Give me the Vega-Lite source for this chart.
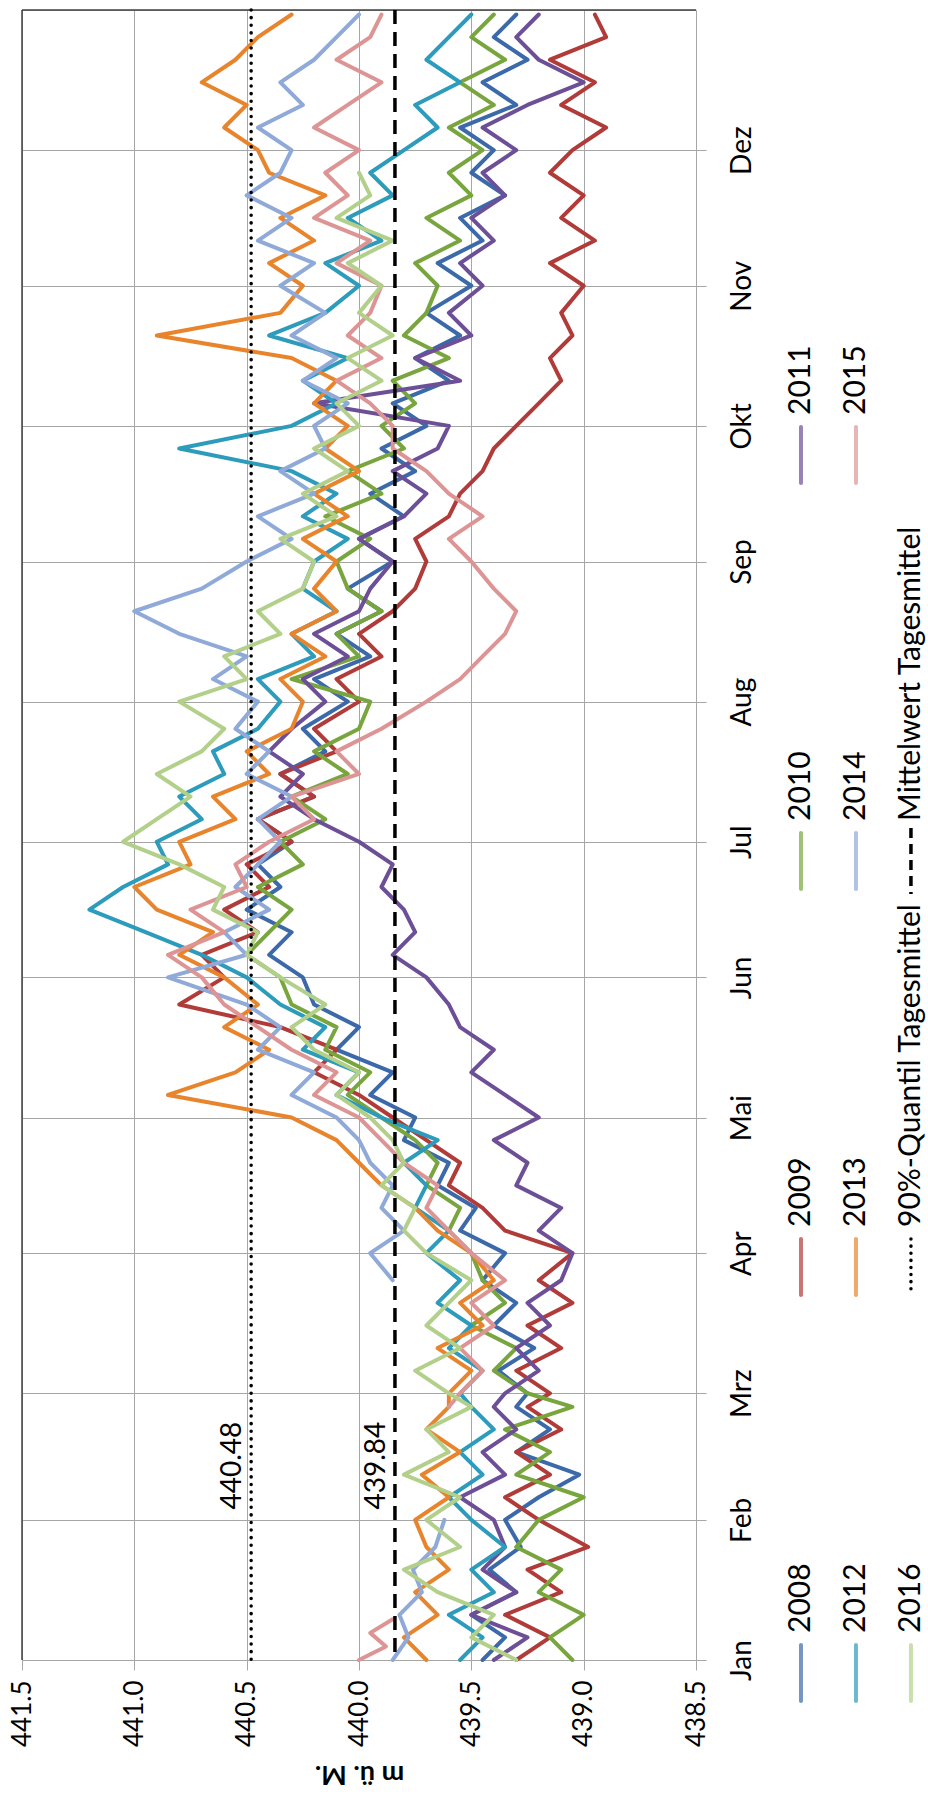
{
"$schema":"https://vega.github.io/schema/vega-lite/v6.json",
"background":"white",
"padding":{"left":8,"top":7,"right":0,"bottom":0},
"bounds":"flush",
"spacing":50,
"hconcat":[
{
"width":674,"height":1650,
"view":{"stroke":"#a6a6a6"},
"layer":[
{
"data":{"values":[
{"s":"2008","d":0,"v":439.45},{"s":"2008","d":5,"v":439.35},{"s":"2008","d":10,"v":439.5},{"s":"2008","d":15,"v":439.3},{"s":"2008","d":20,"v":439.42},{"s":"2008","d":25,"v":439.28},
{"s":"2008","d":31,"v":439.35},{"s":"2008","d":36,"v":439.2},{"s":"2008","d":41,"v":439.02},{"s":"2008","d":46,"v":439.3},{"s":"2008","d":51,"v":439.15},{"s":"2008","d":56,"v":439.3},
{"s":"2008","d":59,"v":439.25},{"s":"2008","d":64,"v":439.38},{"s":"2008","d":69,"v":439.22},{"s":"2008","d":74,"v":439.4},{"s":"2008","d":79,"v":439.3},{"s":"2008","d":84,"v":439.45},
{"s":"2008","d":90,"v":439.35},{"s":"2008","d":95,"v":439.55},{"s":"2008","d":100,"v":439.48},{"s":"2008","d":105,"v":439.65},{"s":"2008","d":110,"v":439.6},{"s":"2008","d":115,"v":439.8},
{"s":"2008","d":120,"v":439.75},{"s":"2008","d":125,"v":439.95},{"s":"2008","d":130,"v":439.85},{"s":"2008","d":135,"v":440.1},{"s":"2008","d":140,"v":440.0},{"s":"2008","d":145,"v":440.2},
{"s":"2008","d":151,"v":440.25},{"s":"2008","d":156,"v":440.4},{"s":"2008","d":161,"v":440.3},{"s":"2008","d":166,"v":440.5},{"s":"2008","d":171,"v":440.35},{"s":"2008","d":176,"v":440.45},
{"s":"2008","d":181,"v":440.3},{"s":"2008","d":186,"v":440.45},{"s":"2008","d":191,"v":440.2},{"s":"2008","d":196,"v":440.35},{"s":"2008","d":201,"v":440.15},{"s":"2008","d":206,"v":440.25},
{"s":"2008","d":212,"v":440.05},{"s":"2008","d":217,"v":440.2},{"s":"2008","d":222,"v":439.95},{"s":"2008","d":227,"v":440.1},{"s":"2008","d":232,"v":439.9},{"s":"2008","d":237,"v":440.05},
{"s":"2008","d":243,"v":439.85},{"s":"2008","d":248,"v":440.0},{"s":"2008","d":253,"v":439.8},{"s":"2008","d":258,"v":439.95},{"s":"2008","d":263,"v":439.75},{"s":"2008","d":268,"v":439.9},
{"s":"2008","d":273,"v":439.7},{"s":"2008","d":278,"v":439.85},{"s":"2008","d":283,"v":439.6},{"s":"2008","d":288,"v":439.75},{"s":"2008","d":293,"v":439.55},{"s":"2008","d":298,"v":439.7},
{"s":"2008","d":304,"v":439.5},{"s":"2008","d":309,"v":439.65},{"s":"2008","d":314,"v":439.45},{"s":"2008","d":319,"v":439.55},{"s":"2008","d":324,"v":439.35},{"s":"2008","d":329,"v":439.5},
{"s":"2008","d":334,"v":439.4},{"s":"2008","d":339,"v":439.55},{"s":"2008","d":344,"v":439.3},{"s":"2008","d":349,"v":439.45},{"s":"2008","d":354,"v":439.25},{"s":"2008","d":359,"v":439.4},{"s":"2008","d":364,"v":439.3},
{"s":"2009","d":0,"v":439.3},{"s":"2009","d":5,"v":439.15},{"s":"2009","d":10,"v":439.35},{"s":"2009","d":15,"v":439.1},{"s":"2009","d":20,"v":439.25},{"s":"2009","d":25,"v":438.98},
{"s":"2009","d":31,"v":439.2},{"s":"2009","d":36,"v":439.35},{"s":"2009","d":41,"v":439.15},{"s":"2009","d":46,"v":439.3},{"s":"2009","d":51,"v":439.1},{"s":"2009","d":56,"v":439.25},
{"s":"2009","d":59,"v":439.15},{"s":"2009","d":64,"v":439.3},{"s":"2009","d":69,"v":439.1},{"s":"2009","d":74,"v":439.25},{"s":"2009","d":79,"v":439.05},{"s":"2009","d":84,"v":439.2},
{"s":"2009","d":90,"v":439.05},{"s":"2009","d":95,"v":439.35},{"s":"2009","d":100,"v":439.45},{"s":"2009","d":105,"v":439.6},{"s":"2009","d":110,"v":439.55},{"s":"2009","d":115,"v":439.7},
{"s":"2009","d":120,"v":439.85},{"s":"2009","d":125,"v":440.0},{"s":"2009","d":130,"v":440.2},{"s":"2009","d":135,"v":440.1},{"s":"2009","d":140,"v":440.35},{"s":"2009","d":145,"v":440.8},
{"s":"2009","d":151,"v":440.6},{"s":"2009","d":156,"v":440.7},{"s":"2009","d":161,"v":440.45},{"s":"2009","d":166,"v":440.6},{"s":"2009","d":171,"v":440.4},{"s":"2009","d":176,"v":440.5},
{"s":"2009","d":181,"v":440.3},{"s":"2009","d":186,"v":440.45},{"s":"2009","d":191,"v":440.2},{"s":"2009","d":196,"v":440.35},{"s":"2009","d":201,"v":440.1},{"s":"2009","d":206,"v":440.2},
{"s":"2009","d":212,"v":440.0},{"s":"2009","d":217,"v":440.1},{"s":"2009","d":222,"v":439.9},{"s":"2009","d":227,"v":440.0},{"s":"2009","d":232,"v":439.85},{"s":"2009","d":237,"v":439.75},
{"s":"2009","d":243,"v":439.7},{"s":"2009","d":248,"v":439.75},{"s":"2009","d":253,"v":439.6},{"s":"2009","d":258,"v":439.55},{"s":"2009","d":263,"v":439.45},{"s":"2009","d":268,"v":439.4},
{"s":"2009","d":273,"v":439.3},{"s":"2009","d":278,"v":439.2},{"s":"2009","d":283,"v":439.1},{"s":"2009","d":288,"v":439.15},{"s":"2009","d":293,"v":439.05},{"s":"2009","d":298,"v":439.1},
{"s":"2009","d":304,"v":439.0},{"s":"2009","d":309,"v":439.15},{"s":"2009","d":314,"v":438.95},{"s":"2009","d":319,"v":439.1},{"s":"2009","d":324,"v":439.0},{"s":"2009","d":329,"v":439.15},
{"s":"2009","d":334,"v":439.05},{"s":"2009","d":339,"v":438.9},{"s":"2009","d":344,"v":439.1},{"s":"2009","d":349,"v":438.95},{"s":"2009","d":354,"v":439.15},{"s":"2009","d":359,"v":438.9},{"s":"2009","d":364,"v":438.95},
{"s":"2010","d":0,"v":439.05},{"s":"2010","d":5,"v":439.15},{"s":"2010","d":10,"v":439.0},{"s":"2010","d":15,"v":439.2},{"s":"2010","d":20,"v":439.1},{"s":"2010","d":25,"v":439.3},
{"s":"2010","d":31,"v":439.2},{"s":"2010","d":36,"v":439.0},{"s":"2010","d":41,"v":439.3},{"s":"2010","d":46,"v":439.15},{"s":"2010","d":51,"v":439.35},{"s":"2010","d":56,"v":439.05},
{"s":"2010","d":59,"v":439.25},{"s":"2010","d":64,"v":439.4},{"s":"2010","d":69,"v":439.3},{"s":"2010","d":74,"v":439.5},{"s":"2010","d":79,"v":439.35},{"s":"2010","d":84,"v":439.45},
{"s":"2010","d":90,"v":439.5},{"s":"2010","d":95,"v":439.6},{"s":"2010","d":100,"v":439.55},{"s":"2010","d":105,"v":439.7},{"s":"2010","d":110,"v":439.65},{"s":"2010","d":115,"v":439.75},
{"s":"2010","d":120,"v":439.9},{"s":"2010","d":125,"v":440.05},{"s":"2010","d":130,"v":439.95},{"s":"2010","d":135,"v":440.15},{"s":"2010","d":140,"v":440.1},{"s":"2010","d":145,"v":440.3},
{"s":"2010","d":151,"v":440.35},{"s":"2010","d":156,"v":440.5},{"s":"2010","d":161,"v":440.4},{"s":"2010","d":166,"v":440.3},{"s":"2010","d":171,"v":440.45},{"s":"2010","d":176,"v":440.25},
{"s":"2010","d":181,"v":440.35},{"s":"2010","d":186,"v":440.15},{"s":"2010","d":191,"v":440.3},{"s":"2010","d":196,"v":440.05},{"s":"2010","d":201,"v":440.2},{"s":"2010","d":206,"v":440.0},
{"s":"2010","d":212,"v":439.95},{"s":"2010","d":217,"v":440.3},{"s":"2010","d":222,"v":440.0},{"s":"2010","d":227,"v":440.1},{"s":"2010","d":232,"v":439.9},{"s":"2010","d":237,"v":440.05},
{"s":"2010","d":243,"v":440.1},{"s":"2010","d":248,"v":439.95},{"s":"2010","d":253,"v":440.15},{"s":"2010","d":258,"v":439.9},{"s":"2010","d":263,"v":440.05},{"s":"2010","d":268,"v":439.8},
{"s":"2010","d":273,"v":439.9},{"s":"2010","d":278,"v":439.75},{"s":"2010","d":283,"v":439.85},{"s":"2010","d":288,"v":439.6},{"s":"2010","d":293,"v":439.8},{"s":"2010","d":298,"v":439.7},
{"s":"2010","d":304,"v":439.65},{"s":"2010","d":309,"v":439.75},{"s":"2010","d":314,"v":439.55},{"s":"2010","d":319,"v":439.7},{"s":"2010","d":324,"v":439.5},{"s":"2010","d":329,"v":439.6},
{"s":"2010","d":334,"v":439.45},{"s":"2010","d":339,"v":439.6},{"s":"2010","d":344,"v":439.4},{"s":"2010","d":349,"v":439.55},{"s":"2010","d":354,"v":439.35},{"s":"2010","d":359,"v":439.5},{"s":"2010","d":364,"v":439.4},
{"s":"2011","d":0,"v":439.4},{"s":"2011","d":5,"v":439.25},{"s":"2011","d":10,"v":439.5},{"s":"2011","d":15,"v":439.3},{"s":"2011","d":20,"v":439.45},{"s":"2011","d":25,"v":439.35},
{"s":"2011","d":31,"v":439.4},{"s":"2011","d":36,"v":439.55},{"s":"2011","d":41,"v":439.35},{"s":"2011","d":46,"v":439.45},{"s":"2011","d":51,"v":439.3},{"s":"2011","d":56,"v":439.4},
{"s":"2011","d":59,"v":439.35},{"s":"2011","d":64,"v":439.2},{"s":"2011","d":69,"v":439.3},{"s":"2011","d":74,"v":439.15},{"s":"2011","d":79,"v":439.25},{"s":"2011","d":84,"v":439.1},
{"s":"2011","d":90,"v":439.05},{"s":"2011","d":95,"v":439.2},{"s":"2011","d":100,"v":439.1},{"s":"2011","d":105,"v":439.3},{"s":"2011","d":110,"v":439.25},{"s":"2011","d":115,"v":439.4},
{"s":"2011","d":120,"v":439.2},{"s":"2011","d":125,"v":439.35},{"s":"2011","d":130,"v":439.5},{"s":"2011","d":135,"v":439.4},{"s":"2011","d":140,"v":439.55},{"s":"2011","d":145,"v":439.6},
{"s":"2011","d":151,"v":439.7},{"s":"2011","d":156,"v":439.85},{"s":"2011","d":161,"v":439.75},{"s":"2011","d":166,"v":439.8},{"s":"2011","d":171,"v":439.9},{"s":"2011","d":176,"v":439.85},
{"s":"2011","d":181,"v":440.0},{"s":"2011","d":186,"v":440.2},{"s":"2011","d":191,"v":440.35},{"s":"2011","d":196,"v":440.25},{"s":"2011","d":201,"v":440.4},{"s":"2011","d":206,"v":440.3},
{"s":"2011","d":212,"v":440.15},{"s":"2011","d":217,"v":440.25},{"s":"2011","d":222,"v":440.05},{"s":"2011","d":227,"v":440.2},{"s":"2011","d":232,"v":440.0},{"s":"2011","d":237,"v":439.95},
{"s":"2011","d":243,"v":439.85},{"s":"2011","d":248,"v":440.0},{"s":"2011","d":253,"v":439.8},{"s":"2011","d":258,"v":439.7},{"s":"2011","d":263,"v":439.85},{"s":"2011","d":268,"v":439.65},
{"s":"2011","d":273,"v":439.6},{"s":"2011","d":278,"v":440.2},{"s":"2011","d":283,"v":439.55},{"s":"2011","d":288,"v":439.75},{"s":"2011","d":293,"v":439.5},{"s":"2011","d":298,"v":439.6},
{"s":"2011","d":304,"v":439.45},{"s":"2011","d":309,"v":439.55},{"s":"2011","d":314,"v":439.4},{"s":"2011","d":319,"v":439.5},{"s":"2011","d":324,"v":439.35},{"s":"2011","d":329,"v":439.45},
{"s":"2011","d":334,"v":439.3},{"s":"2011","d":339,"v":439.45},{"s":"2011","d":344,"v":439.25},{"s":"2011","d":349,"v":439.0},{"s":"2011","d":354,"v":439.2},{"s":"2011","d":359,"v":439.3},{"s":"2011","d":364,"v":439.2},
{"s":"2012","d":0,"v":439.55},{"s":"2012","d":5,"v":439.45},{"s":"2012","d":10,"v":439.6},{"s":"2012","d":15,"v":439.4},{"s":"2012","d":20,"v":439.5},{"s":"2012","d":25,"v":439.35},
{"s":"2012","d":31,"v":439.5},{"s":"2012","d":36,"v":439.6},{"s":"2012","d":41,"v":439.45},{"s":"2012","d":46,"v":439.55},{"s":"2012","d":51,"v":439.4},{"s":"2012","d":56,"v":439.5},
{"s":"2012","d":59,"v":439.55},{"s":"2012","d":64,"v":439.45},{"s":"2012","d":69,"v":439.6},{"s":"2012","d":74,"v":439.5},{"s":"2012","d":79,"v":439.65},{"s":"2012","d":84,"v":439.55},
{"s":"2012","d":90,"v":439.7},{"s":"2012","d":95,"v":439.6},{"s":"2012","d":100,"v":439.75},{"s":"2012","d":105,"v":439.7},{"s":"2012","d":110,"v":439.8},{"s":"2012","d":115,"v":439.65},
{"s":"2012","d":120,"v":439.9},{"s":"2012","d":125,"v":440.1},{"s":"2012","d":130,"v":440.0},{"s":"2012","d":135,"v":440.25},{"s":"2012","d":140,"v":440.15},{"s":"2012","d":145,"v":440.35},
{"s":"2012","d":151,"v":440.5},{"s":"2012","d":156,"v":440.7},{"s":"2012","d":161,"v":440.95},{"s":"2012","d":166,"v":441.2},{"s":"2012","d":171,"v":441.05},{"s":"2012","d":176,"v":440.85},
{"s":"2012","d":181,"v":440.9},{"s":"2012","d":186,"v":440.7},{"s":"2012","d":191,"v":440.8},{"s":"2012","d":196,"v":440.6},{"s":"2012","d":201,"v":440.65},{"s":"2012","d":206,"v":440.45},
{"s":"2012","d":212,"v":440.35},{"s":"2012","d":217,"v":440.45},{"s":"2012","d":222,"v":440.2},{"s":"2012","d":227,"v":440.3},{"s":"2012","d":232,"v":440.1},{"s":"2012","d":237,"v":440.25},
{"s":"2012","d":243,"v":440.2},{"s":"2012","d":248,"v":440.05},{"s":"2012","d":253,"v":440.25},{"s":"2012","d":258,"v":440.1},{"s":"2012","d":263,"v":440.3},{"s":"2012","d":268,"v":440.8},
{"s":"2012","d":273,"v":440.3},{"s":"2012","d":278,"v":440.1},{"s":"2012","d":283,"v":440.25},{"s":"2012","d":288,"v":440.05},{"s":"2012","d":293,"v":440.4},{"s":"2012","d":298,"v":440.15},
{"s":"2012","d":304,"v":440.0},{"s":"2012","d":309,"v":440.15},{"s":"2012","d":314,"v":439.9},{"s":"2012","d":319,"v":440.05},{"s":"2012","d":324,"v":439.85},{"s":"2012","d":329,"v":439.95},
{"s":"2012","d":334,"v":439.8},{"s":"2012","d":339,"v":439.65},{"s":"2012","d":344,"v":439.75},{"s":"2012","d":349,"v":439.55},{"s":"2012","d":354,"v":439.7},{"s":"2012","d":359,"v":439.6},{"s":"2012","d":364,"v":439.5},
{"s":"2013","d":0,"v":439.7},{"s":"2013","d":5,"v":439.8},{"s":"2013","d":10,"v":439.65},{"s":"2013","d":15,"v":439.75},{"s":"2013","d":20,"v":439.6},{"s":"2013","d":25,"v":439.7},
{"s":"2013","d":31,"v":439.75},{"s":"2013","d":36,"v":439.6},{"s":"2013","d":41,"v":439.72},{"s":"2013","d":46,"v":439.55},{"s":"2013","d":51,"v":439.7},{"s":"2013","d":56,"v":439.6},
{"s":"2013","d":59,"v":439.6},{"s":"2013","d":64,"v":439.5},{"s":"2013","d":69,"v":439.65},{"s":"2013","d":74,"v":439.45},{"s":"2013","d":79,"v":439.55},{"s":"2013","d":84,"v":439.4},
{"s":"2013","d":90,"v":439.5},{"s":"2013","d":95,"v":439.65},{"s":"2013","d":100,"v":439.75},{"s":"2013","d":105,"v":439.9},{"s":"2013","d":110,"v":440.0},{"s":"2013","d":115,"v":440.1},
{"s":"2013","d":120,"v":440.3},{"s":"2013","d":125,"v":440.85},{"s":"2013","d":130,"v":440.55},{"s":"2013","d":135,"v":440.4},{"s":"2013","d":140,"v":440.6},{"s":"2013","d":145,"v":440.45},
{"s":"2013","d":151,"v":440.6},{"s":"2013","d":156,"v":440.8},{"s":"2013","d":161,"v":440.65},{"s":"2013","d":166,"v":440.9},{"s":"2013","d":171,"v":441.0},{"s":"2013","d":176,"v":440.75},
{"s":"2013","d":181,"v":440.8},{"s":"2013","d":186,"v":440.55},{"s":"2013","d":191,"v":440.65},{"s":"2013","d":196,"v":440.4},{"s":"2013","d":201,"v":440.5},{"s":"2013","d":206,"v":440.3},
{"s":"2013","d":212,"v":440.25},{"s":"2013","d":217,"v":440.35},{"s":"2013","d":222,"v":440.15},{"s":"2013","d":227,"v":440.3},{"s":"2013","d":232,"v":440.1},{"s":"2013","d":237,"v":440.2},
{"s":"2013","d":243,"v":440.1},{"s":"2013","d":248,"v":440.25},{"s":"2013","d":253,"v":440.05},{"s":"2013","d":258,"v":440.2},{"s":"2013","d":263,"v":440.0},{"s":"2013","d":268,"v":440.15},
{"s":"2013","d":273,"v":440.05},{"s":"2013","d":278,"v":440.2},{"s":"2013","d":283,"v":440.1},{"s":"2013","d":288,"v":440.3},{"s":"2013","d":293,"v":440.9},{"s":"2013","d":298,"v":440.35},
{"s":"2013","d":304,"v":440.25},{"s":"2013","d":309,"v":440.4},{"s":"2013","d":314,"v":440.2},{"s":"2013","d":319,"v":440.35},{"s":"2013","d":324,"v":440.15},{"s":"2013","d":329,"v":440.4},
{"s":"2013","d":334,"v":440.45},{"s":"2013","d":339,"v":440.6},{"s":"2013","d":344,"v":440.5},{"s":"2013","d":349,"v":440.7},{"s":"2013","d":354,"v":440.55},{"s":"2013","d":359,"v":440.45},{"s":"2013","d":364,"v":440.3},
{"s":"2014","d":0,"v":439.85},{"s":"2014","d":5,"v":439.78},{"s":"2014","d":10,"v":439.82},{"s":"2014","d":15,"v":439.72},{"s":"2014","d":20,"v":439.76},{"s":"2014","d":25,"v":439.66},{"s":"2014","d":31,"v":439.62},
{"s":"2014","p":2,"d":84,"v":439.85},{"s":"2014","p":2,"d":90,"v":439.95},{"s":"2014","p":2,"d":95,"v":439.8},{"s":"2014","p":2,"d":100,"v":439.9},{"s":"2014","p":2,"d":105,"v":439.85},{"s":"2014","p":2,"d":110,"v":439.95},{"s":"2014","p":2,"d":115,"v":440.0},
{"s":"2014","p":2,"d":120,"v":440.1},{"s":"2014","p":2,"d":125,"v":440.3},{"s":"2014","p":2,"d":130,"v":440.2},{"s":"2014","p":2,"d":135,"v":440.45},{"s":"2014","p":2,"d":140,"v":440.35},{"s":"2014","p":2,"d":145,"v":440.5},
{"s":"2014","p":2,"d":151,"v":440.85},{"s":"2014","p":2,"d":156,"v":440.5},{"s":"2014","p":2,"d":161,"v":440.6},{"s":"2014","p":2,"d":166,"v":440.4},{"s":"2014","p":2,"d":171,"v":440.55},{"s":"2014","p":2,"d":176,"v":440.45},
{"s":"2014","p":2,"d":181,"v":440.35},{"s":"2014","p":2,"d":186,"v":440.45},{"s":"2014","p":2,"d":191,"v":440.3},{"s":"2014","p":2,"d":196,"v":440.5},{"s":"2014","p":2,"d":201,"v":440.4},{"s":"2014","p":2,"d":206,"v":440.55},
{"s":"2014","p":2,"d":212,"v":440.45},{"s":"2014","p":2,"d":217,"v":440.65},{"s":"2014","p":2,"d":222,"v":440.5},{"s":"2014","p":2,"d":227,"v":440.8},{"s":"2014","p":2,"d":232,"v":441.0},{"s":"2014","p":2,"d":237,"v":440.7},
{"s":"2014","p":2,"d":243,"v":440.5},{"s":"2014","p":2,"d":248,"v":440.3},{"s":"2014","p":2,"d":253,"v":440.45},{"s":"2014","p":2,"d":258,"v":440.2},{"s":"2014","p":2,"d":263,"v":440.35},{"s":"2014","p":2,"d":268,"v":440.15},
{"s":"2014","p":2,"d":273,"v":440.2},{"s":"2014","p":2,"d":278,"v":440.05},{"s":"2014","p":2,"d":283,"v":440.25},{"s":"2014","p":2,"d":288,"v":440.1},{"s":"2014","p":2,"d":293,"v":440.3},{"s":"2014","p":2,"d":298,"v":440.15},
{"s":"2014","p":2,"d":304,"v":440.35},{"s":"2014","p":2,"d":309,"v":440.2},{"s":"2014","p":2,"d":314,"v":440.45},{"s":"2014","p":2,"d":319,"v":440.3},{"s":"2014","p":2,"d":324,"v":440.5},{"s":"2014","p":2,"d":329,"v":440.35},
{"s":"2014","p":2,"d":334,"v":440.3},{"s":"2014","p":2,"d":339,"v":440.45},{"s":"2014","p":2,"d":344,"v":440.25},{"s":"2014","p":2,"d":349,"v":440.35},{"s":"2014","p":2,"d":354,"v":440.2},{"s":"2014","p":2,"d":359,"v":440.1},{"s":"2014","p":2,"d":364,"v":440.0},
{"s":"2015","d":0,"v":440.0},{"s":"2015","d":3,"v":439.88},{"s":"2015","d":6,"v":439.95},{"s":"2015","d":9,"v":439.85},
{"s":"2015","p":2,"d":56,"v":439.6},{"s":"2015","p":2,"d":59,"v":439.55},{"s":"2015","p":2,"d":64,"v":439.45},{"s":"2015","p":2,"d":69,"v":439.55},{"s":"2015","p":2,"d":74,"v":439.4},{"s":"2015","p":2,"d":79,"v":439.5},{"s":"2015","p":2,"d":84,"v":439.35},
{"s":"2015","p":2,"d":90,"v":439.5},{"s":"2015","p":2,"d":95,"v":439.6},{"s":"2015","p":2,"d":100,"v":439.7},{"s":"2015","p":2,"d":105,"v":439.65},{"s":"2015","p":2,"d":110,"v":439.8},{"s":"2015","p":2,"d":115,"v":439.9},
{"s":"2015","p":2,"d":120,"v":440.0},{"s":"2015","p":2,"d":125,"v":440.2},{"s":"2015","p":2,"d":130,"v":440.1},{"s":"2015","p":2,"d":135,"v":440.3},{"s":"2015","p":2,"d":140,"v":440.45},{"s":"2015","p":2,"d":145,"v":440.6},
{"s":"2015","p":2,"d":151,"v":440.7},{"s":"2015","p":2,"d":156,"v":440.85},{"s":"2015","p":2,"d":161,"v":440.6},{"s":"2015","p":2,"d":166,"v":440.75},{"s":"2015","p":2,"d":171,"v":440.5},{"s":"2015","p":2,"d":176,"v":440.55},
{"s":"2015","p":2,"d":181,"v":440.4},{"s":"2015","p":2,"d":186,"v":440.2},{"s":"2015","p":2,"d":191,"v":440.3},{"s":"2015","p":2,"d":196,"v":440.0},{"s":"2015","p":2,"d":201,"v":440.1},{"s":"2015","p":2,"d":206,"v":439.9},
{"s":"2015","p":2,"d":212,"v":439.7},{"s":"2015","p":2,"d":217,"v":439.55},{"s":"2015","p":2,"d":222,"v":439.45},{"s":"2015","p":2,"d":227,"v":439.35},{"s":"2015","p":2,"d":232,"v":439.3},{"s":"2015","p":2,"d":237,"v":439.4},
{"s":"2015","p":2,"d":243,"v":439.5},{"s":"2015","p":2,"d":248,"v":439.6},{"s":"2015","p":2,"d":253,"v":439.45},{"s":"2015","p":2,"d":258,"v":439.6},{"s":"2015","p":2,"d":263,"v":439.7},{"s":"2015","p":2,"d":268,"v":439.85},
{"s":"2015","p":2,"d":273,"v":439.85},{"s":"2015","p":2,"d":278,"v":439.95},{"s":"2015","p":2,"d":283,"v":440.1},{"s":"2015","p":2,"d":288,"v":439.9},{"s":"2015","p":2,"d":293,"v":440.05},{"s":"2015","p":2,"d":298,"v":439.95},
{"s":"2015","p":2,"d":304,"v":439.9},{"s":"2015","p":2,"d":309,"v":440.1},{"s":"2015","p":2,"d":314,"v":439.95},{"s":"2015","p":2,"d":319,"v":440.2},{"s":"2015","p":2,"d":324,"v":440.05},{"s":"2015","p":2,"d":329,"v":440.15},
{"s":"2015","p":2,"d":334,"v":440.0},{"s":"2015","p":2,"d":339,"v":440.2},{"s":"2015","p":2,"d":344,"v":440.05},{"s":"2015","p":2,"d":349,"v":439.9},{"s":"2015","p":2,"d":354,"v":440.1},{"s":"2015","p":2,"d":359,"v":439.95},{"s":"2015","p":2,"d":364,"v":439.9},
{"s":"2016","d":0,"v":439.3},{"s":"2016","d":5,"v":439.5},{"s":"2016","d":10,"v":439.4},{"s":"2016","d":15,"v":439.65},{"s":"2016","d":20,"v":439.8},{"s":"2016","d":25,"v":439.55},
{"s":"2016","d":31,"v":439.7},{"s":"2016","d":36,"v":439.55},{"s":"2016","d":41,"v":439.8},{"s":"2016","d":46,"v":439.6},{"s":"2016","d":51,"v":439.7},{"s":"2016","d":56,"v":439.5},
{"s":"2016","d":59,"v":439.6},{"s":"2016","d":64,"v":439.75},{"s":"2016","d":69,"v":439.55},{"s":"2016","d":74,"v":439.7},{"s":"2016","d":79,"v":439.6},{"s":"2016","d":84,"v":439.5},
{"s":"2016","d":90,"v":439.7},{"s":"2016","d":95,"v":439.8},{"s":"2016","d":100,"v":439.75},{"s":"2016","d":105,"v":439.9},{"s":"2016","d":110,"v":439.8},{"s":"2016","d":115,"v":439.85},
{"s":"2016","d":120,"v":439.95},{"s":"2016","d":125,"v":440.1},{"s":"2016","d":130,"v":440.0},{"s":"2016","d":135,"v":440.2},{"s":"2016","d":140,"v":440.3},{"s":"2016","d":145,"v":440.15},
{"s":"2016","d":151,"v":440.35},{"s":"2016","d":156,"v":440.5},{"s":"2016","d":161,"v":440.45},{"s":"2016","d":166,"v":440.65},{"s":"2016","d":171,"v":440.6},{"s":"2016","d":176,"v":440.8},
{"s":"2016","d":181,"v":441.05},{"s":"2016","d":186,"v":440.9},{"s":"2016","d":191,"v":440.75},{"s":"2016","d":196,"v":440.9},{"s":"2016","d":201,"v":440.7},{"s":"2016","d":206,"v":440.6},
{"s":"2016","d":212,"v":440.8},{"s":"2016","d":217,"v":440.5},{"s":"2016","d":222,"v":440.6},{"s":"2016","d":227,"v":440.35},{"s":"2016","d":232,"v":440.45},{"s":"2016","d":237,"v":440.25},
{"s":"2016","d":243,"v":440.2},{"s":"2016","d":248,"v":440.35},{"s":"2016","d":253,"v":440.1},{"s":"2016","d":258,"v":440.25},{"s":"2016","d":263,"v":440.05},{"s":"2016","d":268,"v":440.2},
{"s":"2016","d":273,"v":440.0},{"s":"2016","d":278,"v":440.1},{"s":"2016","d":283,"v":439.9},{"s":"2016","d":288,"v":440.05},{"s":"2016","d":293,"v":439.85},{"s":"2016","d":298,"v":440.0},
{"s":"2016","d":304,"v":439.9},{"s":"2016","d":309,"v":440.05},{"s":"2016","d":314,"v":439.85},{"s":"2016","d":319,"v":440.1},{"s":"2016","d":324,"v":439.95},{"s":"2016","d":329,"v":440.0}
]},
"mark":{"type":"line","strokeWidth":4,"strokeJoin":"round","strokeCap":"round"},
"encoding":{
"x":{"field":"v","type":"quantitative","scale":{"domain":[438.5,441.5],"reverse":true,"nice":false,"zero":false},
"axis":{"title":"m ü. M.","values":[438.5,439,439.5,440,440.5,441,441.5],"format":".1f","labelAngle":270,"labelAlign":"right","labelBaseline":"middle","labelPadding":10,"tickSize":10,"tickColor":"#a6a6a6","gridColor":"#a6a6a6","gridOpacity":1,"domain":false,"labelFont":"Lato","labelFontSize":26,"labelColor":"black","labelOverlap":false,"labelFlush":false,"titleFont":"Lato","titleFontSize":27,"titleFontWeight":"bold","titleColor":"black","titleAngle":180,"titleBaseline":"middle","titleAlign":"center","titleY":113}},
"y":{"field":"d","type":"quantitative","scale":{"domain":[0,365],"nice":false,"zero":false},
"axis":{"orient":"right","title":null,"values":[0,31,59,90,120,151,181,212,243,273,304,334],"labelExpr":"['Jan','Feb','Mrz','Apr','Mai','Jun','Jul','Aug','Sep','Okt','Nov','Dez'][indexof([0,31,59,90,120,151,181,212,243,273,304,334], datum.value)]","labelAngle":270,"labelAlign":"center","labelBaseline":"top","labelPadding":22,"tickSize":10,"tickColor":"#a6a6a6","gridColor":"#a6a6a6","gridOpacity":1,"domain":false,"labelFont":"Lato","labelFontSize":28,"labelColor":"black","labelOverlap":false,"labelFlush":false}},
"color":{"field":"s","type":"nominal","scale":{"domain":["2008","2009","2010","2011","2012","2013","2014","2015","2016"],"range":["#3b69a9","#b03b38","#79a53e","#6c4f97","#2d9bbb","#e8842c","#8fa9d8","#dc9594","#b3d08b"]},"legend":null},
"detail":{"field":"p"},
"order":{"field":"d","type":"quantitative"}
}
},
{"data":{"values":[{}]},"mark":{"type":"rule","color":"#404040","strokeWidth":1.5},"encoding":{"x":{"datum":441.5,"type":"quantitative"}}},
{"data":{"values":[{}]},"mark":{"type":"rule","color":"#404040","strokeWidth":1.5},"encoding":{"y":{"datum":365,"type":"quantitative"}}},
{"data":{"values":[{}]},"mark":{"type":"rule","color":"black","strokeWidth":3.5,"strokeDash":[0.1,7.5],"strokeCap":"round"},"encoding":{"x":{"datum":440.48,"type":"quantitative"}}},
{"data":{"values":[{}]},"mark":{"type":"rule","color":"black","strokeWidth":3.5,"strokeDash":[14,8]},"encoding":{"x":{"datum":439.84,"type":"quantitative"}}},
{"data":{"values":[{"t":"440.48","v":440.48},{"t":"439.84","v":439.84}]},"mark":{"type":"text","angle":270,"align":"center","baseline":"bottom","dy":-4,"font":"Lato","fontSize":28,"color":"black"},"encoding":{"x":{"field":"v","type":"quantitative"},"y":{"datum":43,"type":"quantitative"},"text":{"field":"t"}}}
]
},
{
"width":182,"height":1693,
"view":{"stroke":null},
"data":{"values":[
{"t":"2008","s":"2008","c":0,"i":0},{"t":"2009","s":"2009","c":0,"i":1},{"t":"2010","s":"2010","c":0,"i":2},{"t":"2011","s":"2011","c":0,"i":3},
{"t":"2012","s":"2012","c":1,"i":0},{"t":"2013","s":"2013","c":1,"i":1},{"t":"2014","s":"2014","c":1,"i":2},{"t":"2015","s":"2015","c":1,"i":3},
{"t":"2016","s":"2016","c":2,"i":0},{"t":"90%-Quantil Tagesmittel","k":"q","c":2,"i":1},{"t":"Mittelwert Tagesmittel","k":"m","c":2,"i":2}
]},
"encoding":{
"x":{"field":"c","type":"quantitative","scale":{"domain":[-1,2.31],"nice":false,"zero":false},"axis":null},
"y":{"field":"i","type":"quantitative","scale":{"domain":[-0.0739,4.096],"nice":false,"zero":false},"axis":null}
},
"layer":[
{"transform":[{"filter":"isValid(datum.s)"}],"mark":{"type":"tick","orient":"vertical","size":60,"thickness":4,"cornerRadius":2},
"encoding":{"color":{"field":"s","type":"nominal","scale":{"domain":["2008","2009","2010","2011","2012","2013","2014","2015","2016"],"range":["#3b69a9","#b03b38","#79a53e","#6c4f97","#2d9bbb","#e8842c","#8fa9d8","#dc9594","#b3d08b"]},"legend":null}}},
{"mark":{"type":"text","angle":270,"align":"left","baseline":"middle","dx":40,"font":"Lato","fontSize":30,"color":"black"},"encoding":{"text":{"field":"t"}}},
{"transform":[{"filter":"datum.k == 'q'"}],"mark":{"type":"rule","color":"black","strokeWidth":3.5,"strokeDash":[0.1,7],"strokeCap":"round","yOffset":-28,"y2Offset":28},"encoding":{"y2":{"field":"i"}}},
{"transform":[{"filter":"datum.k == 'm'"}],"mark":{"type":"rule","color":"black","strokeWidth":3.5,"strokeDash":[10,6],"yOffset":-33,"y2Offset":33},"encoding":{"y2":{"field":"i"}}}
]
}
]
}
